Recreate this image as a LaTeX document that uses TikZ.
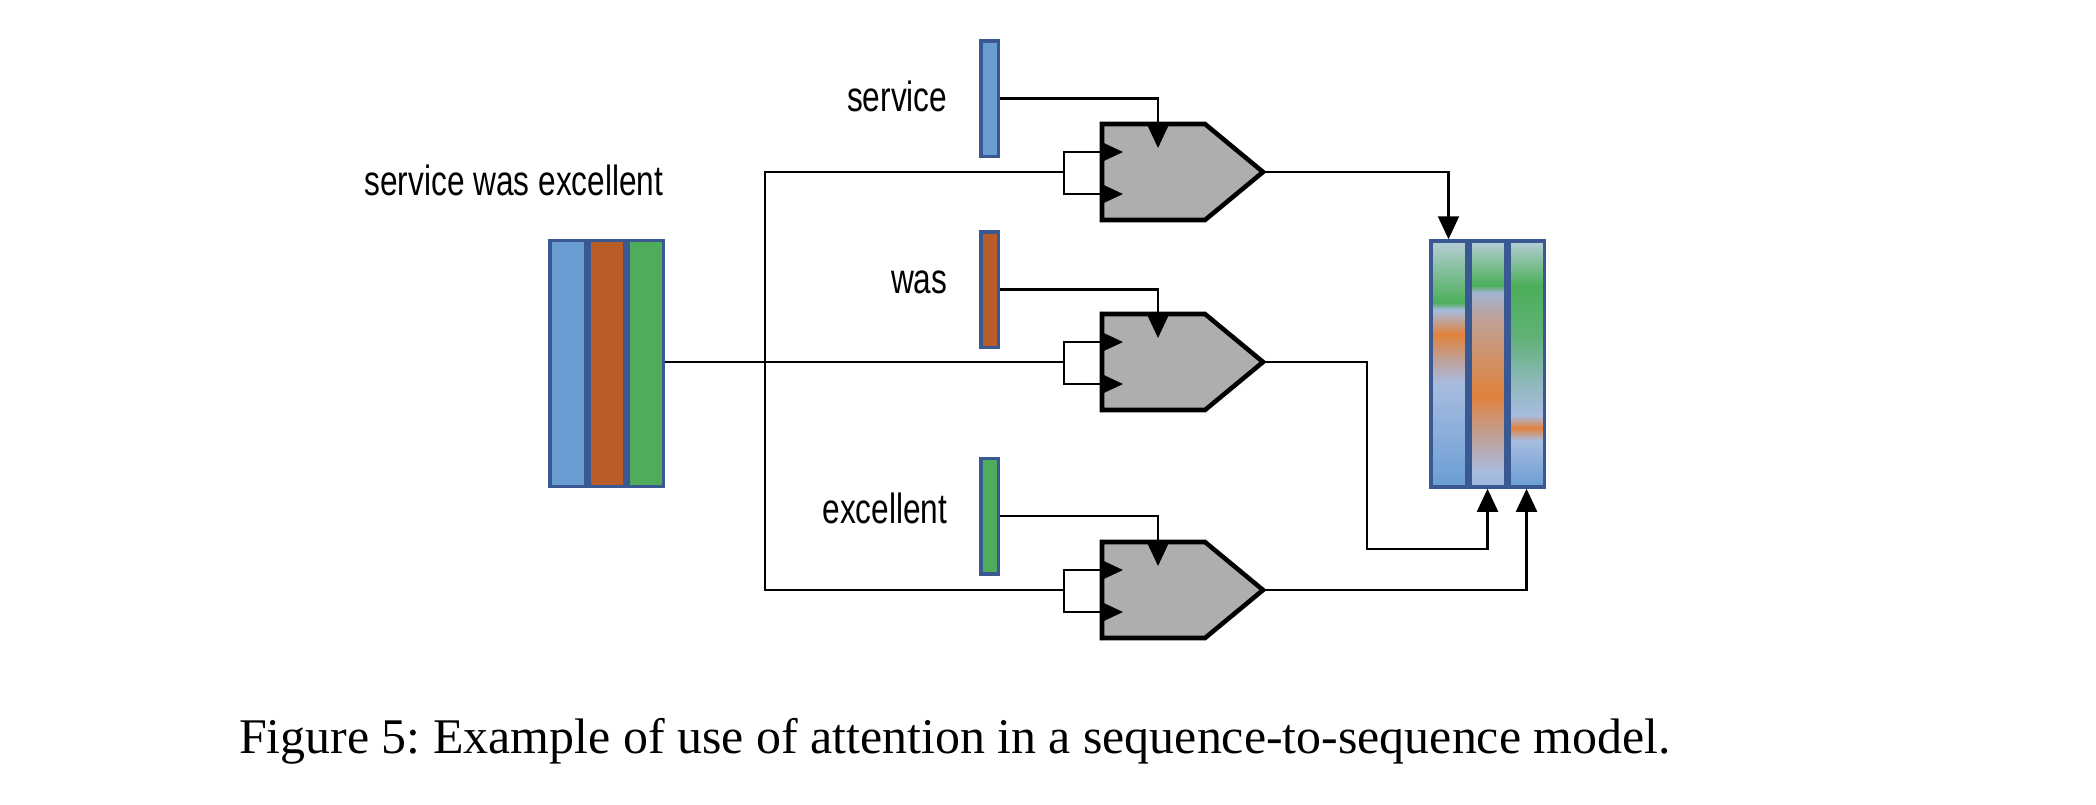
\documentclass[tikz,border=0pt]{standalone}
\usepackage{fontspec}
\setmainfont{Liberation Serif}
\newfontfamily\lblfont[FakeStretch=0.75]{Liberation Sans}
\usetikzlibrary{positioning}
\usetikzlibrary{arrows.meta}
\frenchspacing

\definecolor{svcblue}{RGB}{104,156,210}
\definecolor{wasorange}{RGB}{184,92,40}
\definecolor{excgreen}{RGB}{78,172,90}
\definecolor{cellline}{RGB}{58,88,145}
\definecolor{gategray}{RGB}{174,174,174}
% colours of the attention weights
\definecolor{attTop}{RGB}{184,206,216}
\definecolor{attGreen}{RGB}{76,175,90}
\definecolor{attLight}{RGB}{168,188,224}
\definecolor{attOrange}{RGB}{224,130,60}
\definecolor{attMix}{RGB}{192,160,150}
\definecolor{attBlue}{RGB}{106,158,212}

\pgfdeclareverticalshading{attcolA}{100bp}{color(0bp)=(attBlue); color(25bp)=(attBlue);
  color(46bp)=(attLight); color(51bp)=(attMix); color(56bp)=(attOrange);
  color(61bp)=(attLight); color(62.5bp)=(attGreen); color(75bp)=(attTop); color(100bp)=(attTop)}
\pgfdeclareverticalshading{attcolB}{100bp}{color(0bp)=(attLight!80!attBlue); color(25bp)=(attLight!80!attBlue);
  color(28bp)=(attLight); color(35.5bp)=(attMix); color(43.5bp)=(attOrange); color(59bp)=(attMix);
  color(64.5bp)=(attLight!85!gray); color(66bp)=(attGreen); color(75bp)=(attTop); color(100bp)=(attTop)}
\pgfdeclareverticalshading{attcolC}{100bp}{color(0bp)=(attBlue); color(25bp)=(attBlue);
  color(34.5bp)=(attLight); color(37bp)=(attOrange); color(39.5bp)=(attLight);
  color(45.5bp)=(attLight!75!attGreen); color(56bp)=(attGreen!80!attLight);
  color(66bp)=(attGreen); color(75bp)=(attTop); color(100bp)=(attTop)}

\tikzset{
  >={Triangle[length=2.3mm,width=2.1mm]},
  conn/.style={line width=0.6pt},
  gate/.style={draw, line width=1.3pt, fill=gategray, line join=miter},
  cell/.style={draw=cellline, line width=1pt, minimum width=0.355cm, minimum height=2.46cm, inner sep=0pt},
  wordbar/.style={draw=cellline, line width=1pt, minimum width=0.175cm, minimum height=1.155cm, inner sep=0pt},
  wordlbl/.style={font=\lblfont\fontsize{12pt}{14pt}\selectfont, inner sep=0pt, anchor=base east}
}

\begin{document}
\begin{tikzpicture}
	\useasboundingbox (0,0) rectangle (20.96,8.04);
	\newcommand{\gatehalf}{0.48}

	% encoder states
	\node[wordlbl, anchor=base] (sentence) at (5.14,6.09) {service was excellent};
	\node[cell, fill=svcblue] (L0) at (5.675,4.405) {};
	\node[cell, fill=wasorange, right=0pt of L0] (L1) {};
	\node[cell, fill=excgreen, right=0pt of L1] (L2) {};

	% decoder words
	\foreach \g/\yb/\yt/\colour/\word in {1/7.055/6.93/svcblue/service,2/5.145/5.11/wasorange/was,3/2.88/2.81/excgreen/excellent}{
		\node[wordbar, fill=\colour] (bar\g) at (9.895,\yb) {};
		\node[wordlbl] (word\g) at (9.48,\yt) {\word};
	}

	% attention gates
	\foreach \g/\yc in {1/6.32,2/4.42,3/2.14}{
		\draw[gate] (11.02,\yc+\gatehalf) -- (12.05,\yc+\gatehalf) -- (12.63,\yc)
			-- (12.05,\yc-\gatehalf) -- (11.02,\yc-\gatehalf) -- cycle;
		\coordinate (tip\g) at (12.63,\yc);
		\coordinate (top\g) at (11.58,\yc+0.24);
		\coordinate (inA\g) at (11.23,\yc+0.20);
		\coordinate (inB\g) at (11.23,\yc-0.22);
		\coordinate (br\g) at (10.64,\yc);
	}

	% attention weights
	\node[cell, shade, shading=attcolA] (R0) at (14.485,4.40) {};
	\node[cell, shade, shading=attcolB, right=0pt of R0] (R1) {};
	\node[cell, shade, shading=attcolC, right=0pt of R1] (R2) {};

	% connectors
	\coordinate (bus) at (7.65,4.42);
	\draw[conn] (br1) -| (bus) |- (br3);
	\draw[conn] (L2.east |- br2) -- (br2);
	\foreach \g in {1,2,3}{
		\draw[conn,<->] (inA\g) -| (br\g) |- (inB\g);
		\draw[conn,->] (bar\g.east) -| (top\g);
	}
	\coordinate (bend2) at (13.67,2.55);
	\draw[conn,->] (tip1) -| (R0.north);
	\draw[conn,->] (tip2) -| (bend2) -| (R1.south);
	\draw[conn,->] (tip3) -| (R2.south);

	\node[font=\fontsize{14.2pt}{17pt}\selectfont, inner sep=0pt, anchor=base] (caption) at (9.55,0.51)
		{Figure 5: Example of use of attention in a sequence-to-sequence model.};
\end{tikzpicture}
\end{document}
